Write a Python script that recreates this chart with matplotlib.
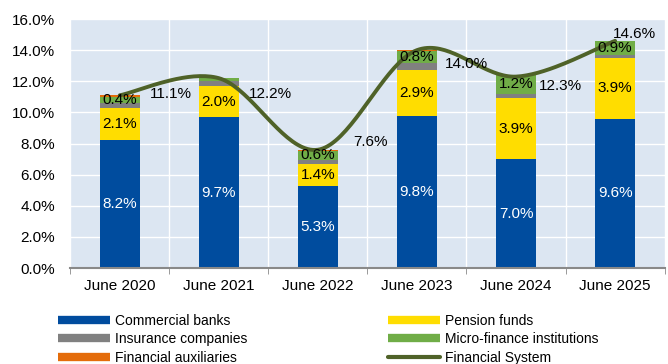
import numpy as np
import matplotlib.pyplot as plt
from matplotlib.lines import Line2D

plt.rcParams['font.family'] = ['Liberation Sans', 'DejaVu Sans']
plt.rcParams['font.size'] = 11

# Contributions to financial system indicator, in percent
periods = ['June 2020', 'June 2021', 'June 2022', 'June 2023', 'June 2024', 'June 2025']
commercial_banks = [8.2, 9.7, 5.3, 9.8, 7.0, 9.6]
pension_funds = [2.1, 2.0, 1.4, 2.9, 3.9, 3.9]
insurance = [0.3, 0.35, 0.25, 0.45, 0.3, 0.2]
micro_finance = [0.4, 0.15, 0.6, 0.8, 1.2, 0.9]
auxiliaries = [0.1, 0.0, 0.05, 0.05, -0.05, 0.0]
financial_system = [11.1, 12.2, 7.6, 14.0, 12.3, 14.6]

c_banks = '#004C9E'
c_pension = '#FFDD00'
c_ins = '#808080'
c_micro = '#70AD47'
c_aux = '#E46C0A'
c_line = '#4F6228'


def smooth(xs, ys, n=40):
    # Catmull-Rom style curve through every point
    xs = np.asarray(xs, float)
    ys = np.asarray(ys, float)
    px = np.concatenate([[xs[0]], xs, [xs[-1]]])
    py = np.concatenate([[ys[0]], ys, [ys[-1]]])
    ox, oy = [], []
    t = np.linspace(0, 1, n)
    for i in range(1, len(px) - 2):
        p0 = np.array([px[i], py[i]])
        p3 = np.array([px[i + 1], py[i + 1]])
        p1 = p0 + (np.array([px[i + 1], py[i + 1]]) - np.array([px[i - 1], py[i - 1]])) / 6
        p2 = p3 - (np.array([px[i + 2], py[i + 2]]) - np.array([px[i], py[i]])) / 6
        b = ((1 - t) ** 3)[:, None] * p0 + (3 * (1 - t) ** 2 * t)[:, None] * p1 \
            + (3 * (1 - t) * t ** 2)[:, None] * p2 + (t ** 3)[:, None] * p3
        ox.extend(b[:, 0])
        oy.extend(b[:, 1])
    return ox, oy


fig = plt.figure(figsize=(6.68, 3.64), dpi=100)
ax = fig.add_axes([0.105, 0.2637, 0.89, 0.684])
ax.set_facecolor('#DCE6F2')

x = np.arange(len(periods))
w = 0.4
bottom = np.zeros(len(x))
segments = [(commercial_banks, c_banks), (pension_funds, c_pension),
            (insurance, c_ins), (micro_finance, c_micro)]
mids = []
for vals, col in segments:
    v = np.array(vals)
    ax.bar(x, v, w, bottom=bottom, color=col, zorder=2)
    mids.append(bottom + v / 2)
    bottom = bottom + v
aux = np.array(auxiliaries)
aux_bottom = np.where(aux >= 0, bottom, 0)
ax.bar(x, aux, w, bottom=aux_bottom, color=c_aux, zorder=2)

# Segment labels
for i in x:
    ax.text(i, mids[0][i], f'{commercial_banks[i]:.1f}%', color='white',
            ha='center', va='center', zorder=4)
    ax.text(i, mids[1][i], f'{pension_funds[i]:.1f}%', color='black',
            ha='center', va='center', zorder=4)
    if micro_finance[i] >= 0.3:
        ax.text(i, mids[3][i], f'{micro_finance[i]:.1f}%', color='black',
                ha='center', va='center', zorder=4)

# Financial system line
sx, sy = smooth(x, financial_system)
ax.plot(sx, sy, color=c_line, lw=2.8, zorder=3, solid_capstyle='round')

lbl_dx = [0.52, 0.52, 0.53, 0.5, 0.45, 0.19]
lbl_dy = [0.1, -1.0, 0.5, -0.9, -0.6, 0.45]
for i in x:
    ax.text(i + lbl_dx[i], financial_system[i] + lbl_dy[i],
            f'{financial_system[i]:.1f}%', ha='center', va='center', zorder=4)

ax.set_xlim(-0.5, len(x) - 0.5)
ax.set_ylim(0, 16)
ax.set_yticks(np.arange(0, 17, 2))
ax.set_yticklabels([f'{v:.1f}%' for v in np.arange(0, 17, 2)])
ax.set_xticks(x)
ax.set_xticklabels(periods)
ax.set_xticks(np.arange(-0.5, len(x), 1), minor=True)
ax.tick_params(axis='x', which='major', length=0, pad=8)
ax.tick_params(axis='x', which='minor', length=4, color='#898989')
ax.tick_params(axis='y', length=0, pad=11)
ax.grid(True, axis='y', color='white', lw=1, zorder=1)
ax.grid(True, axis='x', which='minor', color='white', lw=1, zorder=1)
ax.set_axisbelow(True)
for s in ['top', 'right', 'left']:
    ax.spines[s].set_visible(False)
ax.spines['bottom'].set_color('#898989')
ax.spines['bottom'].set_linewidth(1.5)
ax.spines['bottom'].set_zorder(2.5)

handles = [
    Line2D([], [], color=c_banks, lw=6, solid_capstyle='butt'),
    Line2D([], [], color=c_ins, lw=6, solid_capstyle='butt'),
    Line2D([], [], color=c_aux, lw=6, solid_capstyle='butt'),
    Line2D([], [], color=c_pension, lw=6, solid_capstyle='butt'),
    Line2D([], [], color=c_micro, lw=6, solid_capstyle='butt'),
    Line2D([], [], color=c_line, lw=3, solid_capstyle='round'),
]
labels = ['Commercial banks', 'Insurance companies', 'Financial auxiliaries',
          'Pension funds', 'Micro-finance institutions', 'Financial System']
fig.legend(handles, labels, ncol=2, loc='upper left', bbox_to_anchor=(0.0865, 0.138),
           frameon=False, fontsize=10, handlelength=3.75, handletextpad=0.36,
           columnspacing=10.1, labelspacing=0.33, borderpad=0, borderaxespad=0)

fig.savefig('out.png', dpi=100)
